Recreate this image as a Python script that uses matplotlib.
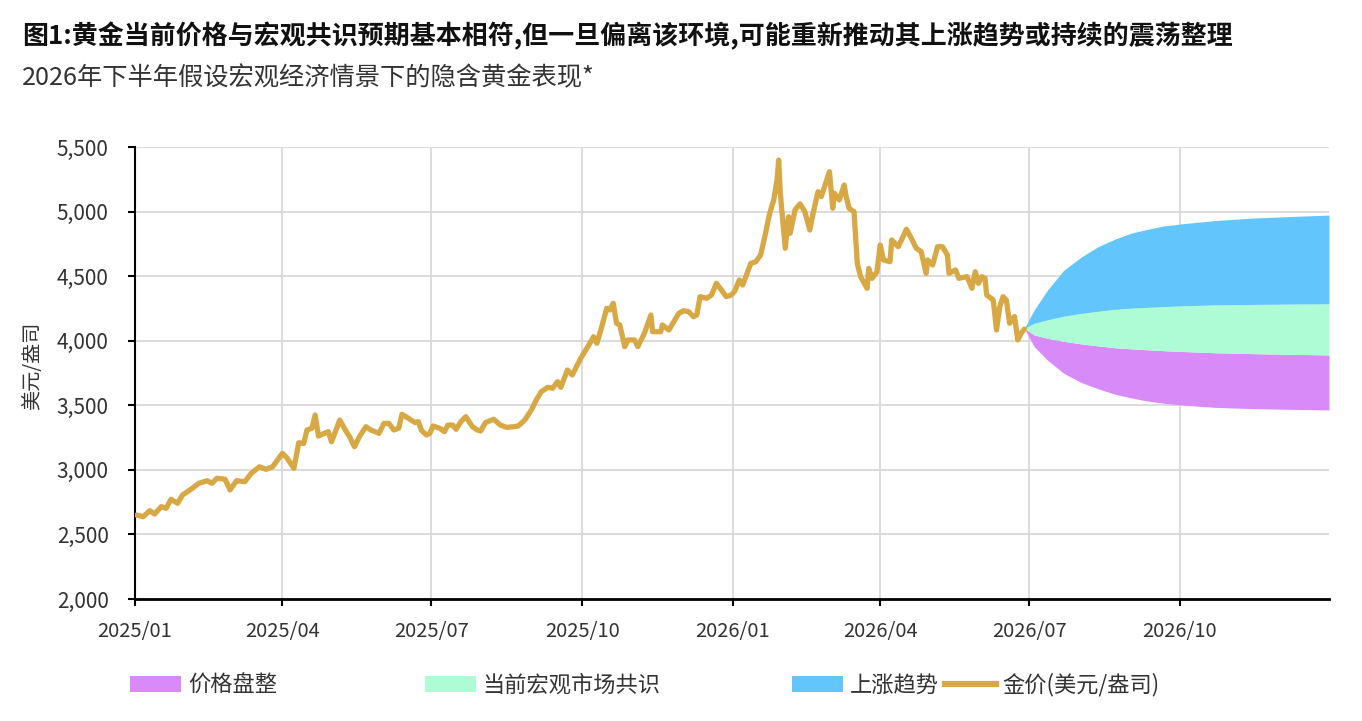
import matplotlib
matplotlib.use("Agg")
import matplotlib.pyplot as plt
import matplotlib.dates as mdates
from matplotlib.patches import Patch
from matplotlib.lines import Line2D
import pandas as pd

plt.rcParams['font.family'] = ['Noto Sans CJK SC', 'DejaVu Sans']

# ---------------- data ----------------
gold_dates = [
    "2025-01-02", "2025-01-06", "2025-01-10", "2025-01-13", "2025-01-17", "2025-01-20", "2025-01-23",
    "2025-01-27", "2025-01-30", "2025-02-05", "2025-02-09", "2025-02-14", "2025-02-17", "2025-02-20",
    "2025-02-25", "2025-02-28", "2025-03-04", "2025-03-09", "2025-03-13", "2025-03-18", "2025-03-22",
    "2025-03-26", "2025-04-01", "2025-04-04", "2025-04-08", "2025-04-11", "2025-04-14", "2025-04-16",
    "2025-04-19", "2025-04-21", "2025-04-23", "2025-04-29", "2025-05-01", "2025-05-06", "2025-05-10",
    "2025-05-12", "2025-05-15", "2025-05-18", "2025-05-22", "2025-05-25", "2025-05-30", "2025-06-02",
    "2025-06-05", "2025-06-08", "2025-06-11", "2025-06-13", "2025-06-17", "2025-06-21", "2025-06-23",
    "2025-06-25", "2025-06-28", "2025-06-30", "2025-07-02", "2025-07-06", "2025-07-09", "2025-07-11",
    "2025-07-14", "2025-07-16", "2025-07-19", "2025-07-22", "2025-07-26", "2025-07-29", "2025-07-31",
    "2025-08-03", "2025-08-08", "2025-08-12", "2025-08-16", "2025-08-20", "2025-08-23", "2025-08-27",
    "2025-08-31", "2025-09-03", "2025-09-06", "2025-09-10", "2025-09-13", "2025-09-16", "2025-09-18",
    "2025-09-22", "2025-09-25", "2025-09-30", "2025-10-05", "2025-10-08", "2025-10-10", "2025-10-13",
    "2025-10-16", "2025-10-18", "2025-10-20", "2025-10-22", "2025-10-24", "2025-10-27", "2025-10-29",
    "2025-11-02", "2025-11-04", "2025-11-08", "2025-11-12", "2025-11-13", "2025-11-18", "2025-11-19",
    "2025-11-23", "2025-11-29", "2025-12-02", "2025-12-05", "2025-12-08", "2025-12-10", "2025-12-12",
    "2025-12-16", "2025-12-19", "2025-12-22", "2025-12-25", "2025-12-28", "2025-12-31", "2026-01-02",
    "2026-01-05", "2026-01-07", "2026-01-12", "2026-01-15", "2026-01-18", "2026-01-21", "2026-01-23",
    "2026-01-25", "2026-01-26", "2026-01-28", "2026-01-29", "2026-01-30", "2026-02-02", "2026-02-04",
    "2026-02-05", "2026-02-08", "2026-02-11", "2026-02-14", "2026-02-17", "2026-02-19", "2026-02-22",
    "2026-02-24", "2026-02-26", "2026-03-01", "2026-03-03", "2026-03-04", "2026-03-07", "2026-03-10",
    "2026-03-11", "2026-03-13", "2026-03-16", "2026-03-18", "2026-03-20", "2026-03-24", "2026-03-25",
    "2026-03-27", "2026-03-30", "2026-04-01", "2026-04-03", "2026-04-07", "2026-04-08", "2026-04-12",
    "2026-04-14", "2026-04-17", "2026-04-20", "2026-04-23", "2026-04-26", "2026-04-29", "2026-04-30",
    "2026-05-03", "2026-05-06", "2026-05-09", "2026-05-12", "2026-05-13", "2026-05-17", "2026-05-19",
    "2026-05-24", "2026-05-27", "2026-05-29", "2026-05-31", "2026-06-02", "2026-06-04", "2026-06-05",
    "2026-06-09", "2026-06-11", "2026-06-13", "2026-06-15", "2026-06-17", "2026-06-19", "2026-06-22",
    "2026-06-24", "2026-06-26", "2026-06-28",
]
gold_prices = [
    2650, 2637, 2684, 2658, 2715, 2702, 2772,
    2741, 2805, 2857, 2896, 2916, 2896, 2935,
    2927, 2844, 2916, 2908, 2973, 3024, 3004,
    3024, 3128, 3089, 3012, 3210, 3205, 3309,
    3322, 3425, 3262, 3296, 3218, 3386, 3296,
    3257, 3179, 3257, 3334, 3309, 3283, 3360,
    3360, 3309, 3322, 3430, 3399, 3366, 3373,
    3304, 3270, 3283, 3340, 3322, 3296, 3347,
    3347, 3314, 3373, 3412, 3334, 3309, 3301,
    3366, 3392, 3347, 3329, 3334, 3340, 3386,
    3464, 3541, 3605, 3639, 3632, 3683, 3639,
    3773, 3735, 3860, 3965, 4031, 3980, 4109,
    4251, 4238, 4290, 4135, 4122, 3954, 4006,
    4006, 3954, 4057, 4199, 4070, 4070, 4122,
    4083, 4212, 4232, 4225, 4186, 4199, 4341,
    4328, 4354, 4445, 4393, 4341, 4354, 4380,
    4470, 4431, 4599, 4612, 4664, 4832, 4960,
    5051, 5090, 5245, 5399, 5142, 4716, 4960,
    4832, 5013, 5060, 4999, 4857, 4986, 5154,
    5116, 5193, 5309, 5025, 5142, 5090, 5206,
    5128, 5025, 4999, 4599, 4496, 4406, 4560,
    4483, 4534, 4741, 4625, 4612, 4780, 4728,
    4780, 4863, 4793, 4716, 4690, 4522, 4625,
    4586, 4728, 4728, 4664, 4522, 4548, 4483,
    4496, 4406, 4534, 4444, 4496, 4483, 4354,
    4315, 4083, 4264, 4341, 4315, 4135, 4187,
    4006, 4057, 4090,
]

fc_dates = ["2026-06-28", "2026-07-04", "2026-07-12", "2026-07-22", "2026-08-02", "2026-08-12",
            "2026-08-22", "2026-09-01", "2026-09-11", "2026-09-21", "2026-10-02", "2026-10-22",
            "2026-11-15", "2026-12-10", "2026-12-31"]
upside_top = [4095, 4238, 4390, 4545, 4650, 4728, 4785, 4832, 4862, 4888, 4905, 4930, 4950, 4963, 4973]
consensus_top = [4095, 4135, 4161, 4190, 4212, 4228, 4243, 4252, 4258, 4264, 4270, 4277, 4281, 4284, 4286]
consol_top = [4095, 4045, 4019, 3995, 3975, 3960, 3946, 3937, 3930, 3923, 3917, 3907, 3900, 3894, 3890]
consol_bottom = [4095, 3954, 3851, 3748, 3675, 3628, 3587, 3558, 3533, 3516, 3502, 3484, 3474, 3468, 3464]

y_ticks = [2000, 2500, 3000, 3500, 4000, 4500, 5000, 5500]
legend_labels = ["价格盘整", "当前宏观市场共识", "上涨趋势", "金价(美元/盎司)"]
title = "图1:黄金当前价格与宏观共识预期基本相符,但一旦偏离该环境,可能重新推动其上涨趋势或持续的震荡整理"
subtitle = "2026年下半年假设宏观经济情景下的隐含黄金表现*"
ylabel = "美元/盎司"

# ---------------- style ----------------
C_GOLD = "#D8A845"
C_PURPLE = "#D98AF9"
C_GREEN = "#ADFCD5"
C_BLUE = "#62C5FB"
C_GRID = "#D9D9D9"
C_TEXT = "#333333"

gd = pd.to_datetime(gold_dates)
fd = pd.to_datetime(fc_dates)

fig = plt.figure(figsize=(13.62, 7.21), dpi=100)
ax = fig.add_axes([135 / 1362, 1 - 599 / 721, (1329 - 135) / 1362, (599 - 147) / 721])

ax.fill_between(fd, consol_bottom, consol_top, color=C_PURPLE, linewidth=0)
ax.fill_between(fd, consol_top, consensus_top, color=C_GREEN, linewidth=0)
ax.fill_between(fd, consensus_top, upside_top, color=C_BLUE, linewidth=0)
ax.plot(gd, gold_prices, color=C_GOLD, lw=3.8, solid_joinstyle='round', solid_capstyle='round', zorder=5)

ax.set_ylim(2000, 5500)
ax.set_yticks(y_ticks)
ax.yaxis.set_major_formatter(matplotlib.ticker.FuncFormatter(lambda v, p: f"{int(v):,}"))
ax.set_xlim(pd.Timestamp("2025-01-01"), pd.Timestamp("2026-12-31"))
ax.xaxis.set_major_locator(mdates.MonthLocator(bymonth=[1, 4, 7, 10]))
ax.xaxis.set_major_formatter(mdates.DateFormatter("%Y/%m"))

ax.grid(True, color=C_GRID, lw=1.3)
ax.set_axisbelow(True)
for s in ["top", "right"]:
    ax.spines[s].set_visible(False)
ax.spines["left"].set_linewidth(1.5)
ax.spines["bottom"].set_linewidth(2.0)
ax.tick_params(axis="y", direction="out", length=5, width=1.5, pad=14, labelsize=15, labelcolor=C_TEXT)
ax.tick_params(axis="x", direction="out", length=5, width=1.5, pad=11, labelsize=14.5, labelcolor=C_TEXT)
for lab in ax.get_xticklabels() + ax.get_yticklabels():
    lab.set_fontweight("light")

fig.text(22 / 1362, 1 - 36 / 721, title, fontsize=18.7, fontweight="bold", color="#111111", va="center", ha="left")
fig.text(22 / 1362, 1 - 78 / 721, subtitle, fontsize=18.2, fontweight="light", color=C_TEXT, va="center", ha="left")
fig.text(33 / 1362, 1 - 366 / 721, ylabel, fontsize=14.5, fontweight="light", color=C_TEXT, rotation=90,
         va="center", ha="center")

handles = [
    Patch(facecolor=C_PURPLE, edgecolor="none"),
    Patch(facecolor=C_GREEN, edgecolor="none"),
    Patch(facecolor=C_BLUE, edgecolor="none"),
    Line2D([0], [0], color=C_GOLD, lw=4.5),
]
leg_x = [130, 425, 792, 945]
for h, lab, xp in zip(handles, legend_labels, leg_x):
    lg = fig.legend([h], [lab], loc="center left", bbox_to_anchor=(xp / 1362, 1 - 685 / 721),
                    frameon=False, fontsize=16, handlelength=2.3, handleheight=0.7,
                    handletextpad=0.3, borderpad=0, borderaxespad=0, labelcolor=C_TEXT)
    for t in lg.get_texts():
        t.set_fontweight("light")

fig.savefig("out.png", dpi=100)
